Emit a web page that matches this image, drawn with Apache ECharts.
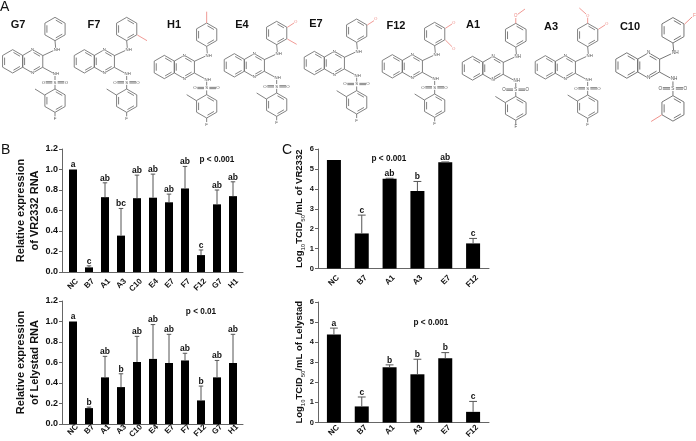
<!DOCTYPE html>
<html>
<head>
<meta charset="utf-8">
<style>
  html, body { margin: 0; padding: 0; background: #fff; }
  #main { width: 696px; height: 441px; }
</style>
<script src="https://cdn.jsdelivr.net/npm/echarts@6/dist/echarts.min.js"></script>
</head>
<body>
<div id="main"></div>
<script>
const rnaGroups = ['NC', 'B7', 'A1', 'A3', 'C10', 'E4', 'E7', 'F7', 'F12', 'G7', 'H1']
const titerGroups = ['NC', 'B7', 'A1', 'A3', 'E7', 'F12']

const vrRna = [1.0, 0.045, 0.73, 0.355, 0.72, 0.725, 0.68, 0.815, 0.165, 0.66, 0.74]
const vrRnaTop = [1.0, 0.06, 0.87, 0.62, 0.945, 0.955, 0.76, 1.03, 0.215, 0.8, 0.88]
const vrRnaLetters = ['a', 'c', 'ab', 'bc', 'ab', 'ab', 'ab', 'ab', 'c', 'ab', 'ab']

const lelyRna = [1.0, 0.155, 0.455, 0.36, 0.605, 0.635, 0.595, 0.62, 0.23, 0.455, 0.595]
const lelyRnaTop = [1.0, 0.165, 0.66, 0.49, 0.855, 0.97, 0.875, 0.69, 0.37, 0.62, 0.875]
const lelyRnaLetters = ['a', 'b', 'ab', 'b', 'ab', 'ab', 'ab', 'ab', 'b', 'ab', 'ab']

const vrTiter = [5.45, 1.76, 4.51, 3.89, 5.33, 1.26]
const vrTiterTop = [5.45, 2.68, 4.53, 4.37, 5.35, 1.51]
const vrTiterLetters = ['', 'c', 'ab', 'b', 'ab', 'c']

const lelyTiter = [4.38, 0.8, 2.75, 2.4, 3.2, 0.53]
const lelyTiterTop = [4.7, 1.27, 2.87, 3.15, 3.48, 1.05]
const lelyTiterLetters = ['a', 'c', 'b', 'b', 'b', 'c']

const FONT = '"Liberation Sans", Arial, sans-serif'
const INK = '#111'

const chart = echarts.init(document.getElementById('main'), null, { renderer: 'canvas' })

const grid = []
const xAxis = []
const yAxis = []
const series = []

// one panel = a frame grid (axes), a narrower grid for the bars,
// and the same grid nudged right for the slanted names so they sit under the bars
function addPanel(p) {
  const frameIndex = grid.length
  grid.push({ left: p.left, top: p.top, width: p.width, height: p.height })
  xAxis.push({
    gridIndex: frameIndex,
    type: 'category',
    data: [],
    axisLine: { lineStyle: { color: '#666', width: 1 } },
    axisTick: { show: false },
    axisLabel: { show: false }
  })
  yAxis.push({
    gridIndex: frameIndex,
    type: 'value',
    min: 0,
    max: p.max,
    interval: p.interval,
    name: p.name,
    nameLocation: 'middle',
    nameGap: p.nameGap,
    nameTextStyle: {
      color: INK,
      fontFamily: FONT,
      fontWeight: 'bold',
      fontSize: p.nameSize,
      lineHeight: p.nameSize + 3,
      rich: { s: { fontSize: 6, fontWeight: 'bold', fontFamily: FONT, color: '#555', verticalAlign: 'bottom', lineHeight: 9 } }
    },
    splitLine: { show: false },
    axisLine: { show: true, lineStyle: { color: '#666', width: 1 } },
    axisTick: { show: true, length: 3, lineStyle: { color: '#666' } },
    axisLabel: {
      color: INK,
      fontFamily: FONT,
      fontWeight: 'bold',
      fontSize: p.labelSize,
      margin: 4,
      formatter: p.format
    }
  })

  const labelIndex = grid.length
  grid.push({ left: p.left + p.inset + 4, top: p.top, width: p.width - p.inset - p.insetRight, height: p.height })
  xAxis.push({
    gridIndex: labelIndex,
    type: 'category',
    data: p.groups,
    axisLine: { show: false },
    axisTick: { show: false },
    axisLabel: {
      interval: 0,
      rotate: 45,
      margin: 8,
      color: INK,
      fontFamily: FONT,
      fontWeight: 'bold',
      fontSize: 8
    }
  })
  yAxis.push({ gridIndex: labelIndex, type: 'value', min: 0, max: p.max, show: false })

  const barIndex = grid.length
  grid.push({ left: p.left + p.inset, top: p.top, width: p.width - p.inset - p.insetRight, height: p.height })
  xAxis.push({
    gridIndex: barIndex,
    type: 'category',
    data: p.groups,
    axisLine: { show: false },
    axisTick: { show: false },
    axisLabel: { show: false }
  })
  yAxis.push({ gridIndex: barIndex, type: 'value', min: 0, max: p.max, show: false })

  series.push({
    type: 'bar',
    xAxisIndex: barIndex,
    yAxisIndex: barIndex,
    data: p.values,
    barWidth: p.barWidth,
    itemStyle: { color: '#000' },
    silent: true
  })
  series.push({
    type: 'custom',
    xAxisIndex: barIndex,
    yAxisIndex: barIndex,
    clip: false,
    silent: true,
    z: 3,
    data: p.values.map((v, i) => [i, v, p.tops[i]]),
    renderItem: (params, api) => {
      const i = api.value(0)
      const base = api.coord([i, api.value(1)])
      const top = api.coord([i, api.value(2)])
      const halfCap = p.barWidth * 0.28
      const children = []
      if (api.value(2) > api.value(1)) {
        const line = { stroke: '#555', lineWidth: 1 }
        children.push({ type: 'line', shape: { x1: top[0], y1: base[1], x2: top[0], y2: top[1] }, style: line })
        children.push({ type: 'line', shape: { x1: top[0] - halfCap, y1: top[1], x2: top[0] + halfCap, y2: top[1] }, style: line })
      }
      children.push({
        type: 'text',
        style: {
          text: p.letters[i],
          x: top[0],
          y: top[1],
          align: 'center',
          verticalAlign: 'bottom',
          fill: INK,
          font: 'bold 8.5px ' + FONT
        }
      })
      return { type: 'group', children }
    }
  })
}

const oneDecimal = v => v.toFixed(1)

addPanel({
  groups: rnaGroups, values: vrRna, tops: vrRnaTop, letters: vrRnaLetters,
  left: 62, top: 149, width: 181, height: 123, inset: 3, insetRight: 2,
  max: 1.2, interval: 0.2, format: oneDecimal, labelSize: 9, barWidth: 8,
  name: 'Relative expression\nof VR2332 RNA', nameGap: 13, nameSize: 11
})
addPanel({
  groups: rnaGroups, values: lelyRna, tops: lelyRnaTop, letters: lelyRnaLetters,
  left: 62, top: 301, width: 181, height: 123, inset: 3, insetRight: 2,
  max: 1.2, interval: 0.2, format: oneDecimal, labelSize: 9, barWidth: 8,
  name: 'Relative expression\nof Lelystad RNA', nameGap: 13, nameSize: 11
})
addPanel({
  groups: titerGroups, values: vrTiter, tops: vrTiterTop, letters: vrTiterLetters,
  left: 318, top: 149, width: 171, height: 119.5, inset: 2, insetRight: 2,
  max: 6, interval: 1, format: v => v, labelSize: 7.5, barWidth: 14,
  name: 'Log{s|10}TCID{s|50}/mL of VR2332', nameGap: 11, nameSize: 9.5
})
addPanel({
  groups: titerGroups, values: lelyTiter, tops: lelyTiterTop, letters: lelyTiterLetters,
  left: 318, top: 302, width: 171, height: 120.5, inset: 2, insetRight: 2,
  max: 6, interval: 1, format: v => v, labelSize: 7.5, barWidth: 14,
  name: 'Log{s|10}TCID{s|50}/mL of Lelystad', nameGap: 11, nameSize: 9.5
})

// structures in panel A: shared skeleton, drawn at 3x units, then scaled down per compound
const BOND = '#6e6e6e'
const RED = '#ee8a84'

function ringLines(cx, cy) {
  const pts = []
  for (let k = 0; k < 6; k++) {
    const a = (-90 + 60 * k) * Math.PI / 180
    pts.push([cx + 35 * Math.cos(a), cy + 35 * Math.sin(a)])
  }
  const out = []
  for (let k = 0; k < 6; k++) {
    const a = pts[k]
    const b = pts[(k + 1) % 6]
    out.push([a[0], a[1], b[0], b[1]])
    if (k % 2 === 0) {
      const f = 0.8
      out.push([
        cx + (a[0] - cx) * f + (b[0] - a[0]) * 0.08, cy + (a[1] - cy) * f + (b[1] - a[1]) * 0.08,
        cx + (b[0] - cx) * f - (b[0] - a[0]) * 0.08, cy + (b[1] - cy) * f - (b[1] - a[1]) * 0.08
      ])
    }
  }
  return out
}

const skeleton = [
  ...ringLines(38, 184), ...ringLines(98, 184), ...ringLines(165, 87),
  [128, 167, 160, 152], [167, 144, 165, 122],
  [128, 202, 159, 219], [165, 227, 165, 240],
  [137, 245, 157, 245], [137, 249, 157, 249], [173, 245, 193, 245], [173, 249, 193, 249]
]
const lowerRing = [...ringLines(165, 302), [165, 254, 165, 267]]
const fluoroTail = [[134, 285, 105, 267], [165, 337, 165, 350]]
const skeletonLabels = [
  ['N', 98, 150], ['N', 98, 218], ['NH', 171, 150], ['NH', 168, 221], ['S', 165, 247], ['O', 130, 247], ['O', 199, 247]
]

const oxygenUpper = { lines: [[197, 70, 217, 57]], labels: [['O', 222, 52]] }
const compounds = [
  { name: 'G7', nameX: 18, nameY: 25, dx: 0, dy: 0, scale: 1, red: [], redLabels: [] },
  { name: 'F7', nameX: 94, nameY: 25, dx: 215, dy: 0, scale: 1, red: [[197, 105, 226, 122]], redLabels: [] },
  { name: 'H1', nameX: 174, nameY: 25, dx: 455, dy: 17, scale: 1, red: [[165, 52, 165, 18]], redLabels: [] },
  { name: 'E4', nameX: 242, nameY: 25, dx: 665, dy: 12, scale: 1, red: [...oxygenUpper.lines, [197, 105, 225, 121]], redLabels: oxygenUpper.labels },
  { name: 'E7', nameX: 316, nameY: 24, dx: 905, dy: 5, scale: 1, red: oxygenUpper.lines, redLabels: oxygenUpper.labels },
  { name: 'F12', nameX: 396, nameY: 26, dx: 1139, dy: 15, scale: 1, red: [...oxygenUpper.lines, [197, 105, 217, 125]], redLabels: [...oxygenUpper.labels, ['O', 222, 130]] },
  { name: 'A1', nameX: 473, nameY: 25, dx: 1379, dy: 17, scale: 1.02, red: [[165, 52, 165, 36], [170, 26, 192, 10]], redLabels: [['O', 165, 30]] },
  { name: 'A3', nameX: 551, nameY: 27, dx: 1598, dy: 18, scale: 1, red: [[165, 52, 165, 34], [160, 24, 140, 6], ...oxygenUpper.lines], redLabels: [['O', 165, 28], ...oxygenUpper.labels] },
  { name: 'C10', nameX: 630, nameY: 27, dx: 1839, dy: -4, scale: 1.09, lower: 'meta', red: [[197, 70, 218, 50], [134, 320, 105, 338]], redLabels: [['F', 224, 47]] }
]

const graphics = []

function tinyLabel(label, color) {
  return {
    type: 'text',
    x: label[1],
    y: label[2],
    style: { text: label[0], fill: color, font: '13px ' + FONT, align: 'center', verticalAlign: 'middle', backgroundColor: '#fff' }
  }
}

compounds.forEach(c => {
  const greyLines = skeleton.concat(lowerRing)
  const tail = c.lower === 'meta' ? [] : fluoroTail
  const labels = c.lower === 'meta' ? skeletonLabels : skeletonLabels.concat([['F', 165, 356]])
  const children = []
  greyLines.concat(tail).forEach(l => children.push({
    type: 'line', shape: { x1: l[0], y1: l[1], x2: l[2], y2: l[3] }, style: { stroke: BOND, lineWidth: 2.6 }
  }))
  c.red.forEach(l => children.push({
    type: 'line', shape: { x1: l[0], y1: l[1], x2: l[2], y2: l[3] }, style: { stroke: RED, lineWidth: 2.6 }
  }))
  labels.forEach(l => children.push(tinyLabel(l, '#555')))
  c.redLabels.forEach(l => children.push(tinyLabel(l, RED)))
  graphics.push({
    type: 'group',
    x: c.dx / 3,
    y: c.dy / 3,
    scaleX: c.scale / 3,
    scaleY: c.scale / 3,
    children
  })
  graphics.push(plainText(c.name, c.nameX, c.nameY, 'bold 11px ' + FONT, 'center'))
})

function plainText(text, x, y, font, align) {
  return {
    type: 'text',
    x,
    y,
    z: 10,
    style: { text, font, fill: INK, align: align || 'center', verticalAlign: 'middle' }
  }
}

graphics.push(plainText('A', 0, 7, '14px ' + FONT, 'left'))
graphics.push(plainText('B', 1, 150, '14px ' + FONT, 'left'))
graphics.push(plainText('C', 282, 150, '14px ' + FONT, 'left'))
graphics.push(plainText('p < 0.001', 217, 160, 'bold 8.2px ' + FONT))
graphics.push(plainText('p < 0.01', 201, 312, 'bold 8.2px ' + FONT))
graphics.push(plainText('p < 0.001', 389, 159, 'bold 8.2px ' + FONT))
graphics.push(plainText('p < 0.001', 431, 323, 'bold 8.2px ' + FONT))

chart.setOption({
  animation: false,
  backgroundColor: '#fff',
  textStyle: { fontFamily: FONT },
  grid,
  xAxis,
  yAxis,
  series,
  graphic: { elements: graphics }
})
</script>
</body>
</html>
